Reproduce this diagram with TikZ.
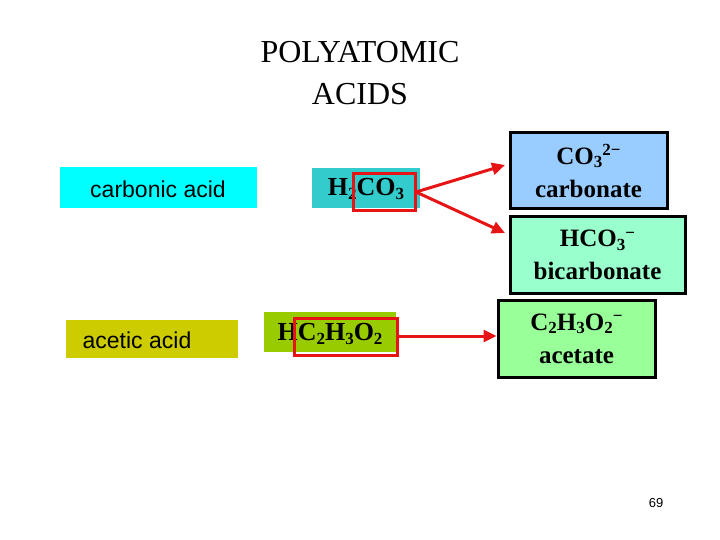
\documentclass[tikz,border=0pt]{standalone}
\usepackage{fontspec}
\setmainfont{Liberation Serif}
\newfontfamily\arialf{Liberation Sans}
\usetikzlibrary{arrows.meta}
\definecolor{cyanb}{RGB}{0,255,255}
\definecolor{tealb}{RGB}{51,204,204}
\definecolor{blueb}{RGB}{153,204,255}
\definecolor{mintb}{RGB}{153,255,204}
\definecolor{greenb}{RGB}{153,255,153}
\definecolor{oliveb}{RGB}{204,204,0}
\definecolor{limeb}{RGB}{153,204,0}
\definecolor{redl}{RGB}{230,20,20}
\newcommand{\sbs}[1]{\raisebox{-0.3ex}{\fontsize{17}{17}\selectfont #1}}
\newcommand{\sps}[1]{\raisebox{0.75ex}{\fontsize{17}{17}\selectfont #1}}
\begin{document}
\begin{tikzpicture}[x=1pt,y=-1pt,
  lbl/.style={font=\arialf\fontsize{23}{25}\selectfont},
  ion/.style={draw=black,line width=3pt,align=center,font=\bfseries\fontsize{25}{33}\selectfont},
  frm/.style={font=\bfseries\fontsize{26}{28}\selectfont},
  hl/.style={draw=redl,line width=3pt},
  arr/.style={draw=redl,line width=3pt,-{Triangle[length=13pt,width=12pt]}}]
\useasboundingbox (0,0) rectangle (720,540);
\node[font=\fontsize{32}{42}\selectfont,align=center] (title) at (360,73) {POLYATOMIC\\ACIDS};
\fill[cyanb] (60,167) rectangle (257,208);
\node[lbl] (ca) at (158,189) {carbonic acid};
\fill[tealb] (312,168) rectangle (420,208);
\node[frm] (h2) at (366,189) {H\sbs{2}CO\sbs{3}};
\draw[hl] (353,174) rectangle (415,211);
\coordinate (s1) at (416,192);
\node[ion,fill=blueb,minimum width=157pt,minimum height=76pt] (co3) at (588.5,171) {CO\sbs{3}\sps{2\textminus}\\carbonate};
\node[ion,fill=mintb,minimum width=175pt,minimum height=76pt] (hco3) at (597.5,255) {HCO\sbs{3}\sps{\textminus}\\bicarbonate};
\fill[oliveb] (66,320) rectangle (238,358);
\node[lbl] (aa) at (137,340) {acetic acid};
\fill[limeb] (264,312) rectangle (396,352);
\node[frm] (hc) at (330,334) {HC\sbs{2}H\sbs{3}O\sbs{2}};
\draw[hl] (294,318) rectangle (397,355);
\coordinate (s2) at (397,336);
\node[ion,fill=greenb,minimum width=157pt,minimum height=77pt] (ac) at (576.5,338.5) {C\sbs{2}H\sbs{3}O\sbs{2}\sps{\textminus}\\acetate};
\draw[arr] (s1) -- (505,165);
\draw[arr] (s1) -- (505,233);
\draw[arr] (s2) -- (ac.west |- s2);
\node[font=\arialf\fontsize{13}{14}\selectfont] (pg) at (656,503) {69};
\end{tikzpicture}
\end{document}
